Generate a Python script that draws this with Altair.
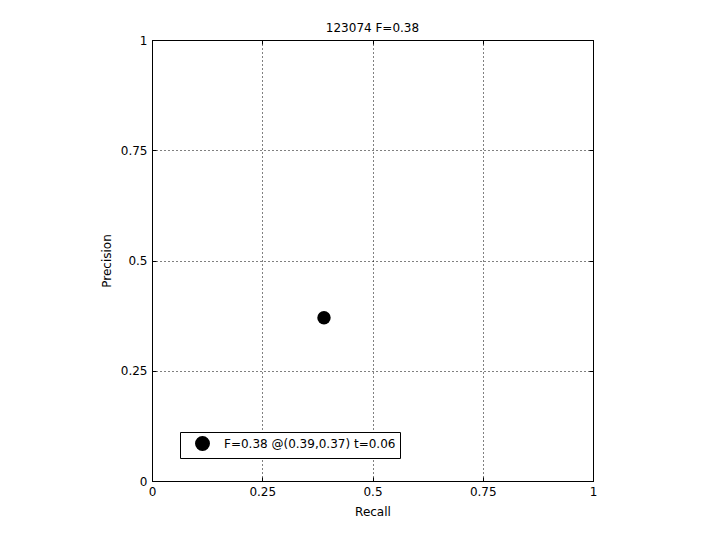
import altair as alt
import pandas as pd

recall = [0.39]
precision = [0.37]
labels = ["F=0.38 @(0.39,0.37) t=0.06"]
tick_values = [0, 0.25, 0.5, 0.75, 1]
title_text = "123074 F=0.38"

df = pd.DataFrame({"Recall": recall, "Precision": precision, "label": labels})

FONT = "DejaVu Sans"

xscale = alt.Scale(domain=[0, 1], nice=False, zero=False)
yscale = alt.Scale(domain=[0, 1], nice=False, zero=False)

base = alt.Chart(df)

points = base.mark_point(filled=True, shape="circle", size=180, opacity=1).encode(
    x=alt.X(
        "Recall:Q",
        scale=xscale,
        axis=alt.Axis(values=tick_values, title="Recall", labelExpr="datum.value + ''",
                      orient="bottom", grid=True, ticks=False, domain=False, titlePadding=9),
    ),
    y=alt.Y(
        "Precision:Q",
        scale=yscale,
        axis=alt.Axis(values=tick_values, title="Precision", labelExpr="datum.value + ''",
                      orient="left", grid=True, ticks=False, domain=False, titlePadding=7),
    ),
    color=alt.Color(
        "label:N",
        scale=alt.Scale(range=["black"]),
        legend=alt.Legend(
            title=None,
            orient="none",
            legendX=28,
            legendY=392,
            fillColor="white",
            strokeColor="black",
            padding=4,
            symbolOffset=11,
            labelOffset=14,
            symbolSize=180,
            symbolType="circle",
            symbolStrokeColor="black",
            symbolFillColor="black",
            labelFont=FONT,
            labelFontSize=12,
            labelColor="black",
            labelLimit=400,
        ),
    ),
)

def tick_layer(xorient, yorient):
    return base.mark_point(opacity=0).encode(
        x=alt.X("Recall:Q", scale=xscale,
                axis=alt.Axis(values=tick_values, orient=xorient, labels=False, title=None, grid=False,
                              domain=False, ticks=True, tickSize=4, offset=-4, tickColor="black")),
        y=alt.Y("Precision:Q", scale=yscale,
                axis=alt.Axis(values=tick_values, orient=yorient, labels=False, title=None, grid=False,
                              domain=False, ticks=True, tickSize=4, offset=-4, tickColor="black")),
    )

chart = (
    alt.layer(points, tick_layer("top", "right"), tick_layer("bottom", "left"))
    .resolve_axis(x="independent", y="independent")
    .properties(
        width=441,
        height=441,
        title=alt.TitleParams(title_text, font=FONT, fontSize=12, fontWeight="normal", color="black", offset=-1),
        autosize=alt.AutoSizeParams(type="none"),
        padding={"left": 144, "top": 32, "right": 110, "bottom": 45},
        background="white",
    )
    .configure_view(stroke="black", strokeWidth=1)
    .configure_axis(
        labelPadding=5,
        labelFont=FONT,
        labelFontSize=12,
        labelColor="black",
        titleFont=FONT,
        titleFontSize=12,
        titleFontWeight="normal",
        titleColor="black",
        gridColor="black",
        gridDash=[1, 3],
        gridOpacity=1,
        gridWidth=1,
        labelFlush=False,
        labelOverlap=False,
    )
)

chart.save("out.html", embed_options={"renderer": "svg", "actions": False})
